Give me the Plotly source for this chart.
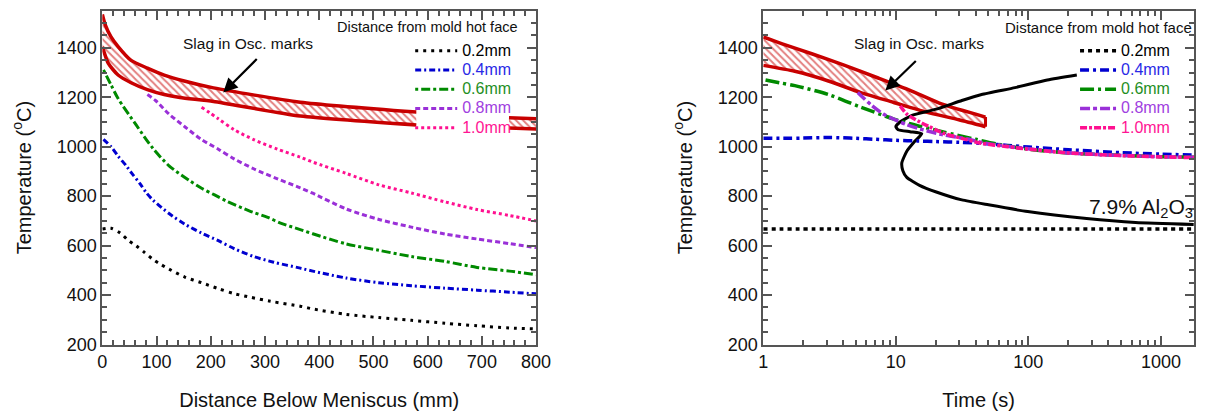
import math
import plotly.graph_objects as go

FONT = "Arial, 'Liberation Sans', sans-serif"

# ---------------- Left panel: temperature vs distance below meniscus ----------------
l02_mm = [0, 16, 33, 47, 62, 78, 93, 107, 123, 152, 183, 214, 243, 274, 310, 365, 388, 450, 510, 570, 632, 691, 751, 800]
l02_T = [667, 670, 651, 623, 600, 572, 545, 525, 505, 473, 450, 426, 406, 391, 375, 355, 344, 322, 309, 298, 286, 276, 267, 263]

l04_mm = [2, 16, 29, 44, 53, 69, 80, 93, 123, 152, 183, 214, 243, 279, 316, 365, 388, 450, 510, 570, 632, 691, 751, 800]
l04_T = [1030, 1000, 962, 923, 896, 852, 817, 785, 730, 687, 651, 620, 588, 556, 533, 509, 497, 469, 450, 438, 428, 420, 412, 405]

l06_mm = [2, 16, 29, 62, 93, 123, 160, 183, 207, 232, 274, 305, 330, 365, 388, 450, 510, 570, 632, 691, 751, 800]
l06_T = [1311, 1250, 1195, 1089, 994, 923, 864, 832, 805, 777, 738, 714, 690, 665, 648, 607, 581, 556, 536, 512, 497, 482]

l08_mm = [83, 98, 123, 152, 183, 214, 243, 279, 323, 365, 388, 450, 510, 570, 632, 691, 751, 800]
l08_T = [1211, 1187, 1132, 1081, 1029, 990, 951, 911, 870, 834, 812, 748, 706, 675, 647, 627, 608, 592]

l10_mm = [183, 214, 243, 279, 323, 365, 388, 450, 510, 570, 632, 691, 751, 800]
l10_T = [1160, 1113, 1069, 1029, 990, 958, 938, 892, 846, 813, 777, 746, 722, 700]

# slag band (hatched), visible in two pieces
lband_up_mm = [0, 5, 16, 29, 53, 83, 114, 151, 205, 365, 579]
lband_up_T = [1535, 1495, 1444, 1405, 1349, 1318, 1290, 1266, 1238, 1180, 1140]
lband_lo_mm = [0, 11, 29, 53, 83, 114, 143, 205, 365, 579]
lband_lo_T = [1404, 1337, 1290, 1259, 1231, 1211, 1199, 1183, 1124, 1088]
lband2_mm = [750, 800]
lband2_up_T = [1117, 1113]
lband2_lo_T = [1076, 1072]

# ---------------- Right panel: temperature vs time ----------------
r02_t = [1, 3, 10, 30, 100, 300, 1000, 1800]
r02_T = [667, 667, 667, 667, 667, 667, 667, 667]

r04_t = [1, 1.5, 2, 3, 4, 5, 7, 10, 15, 20, 30, 50, 70, 100, 200, 500, 1000, 1800]
r04_T = [1034, 1034, 1035, 1037, 1036, 1034, 1030, 1026, 1023, 1021, 1018, 1012, 1005, 999, 988, 976, 970, 966]

r06_t = [1.04, 1.32, 1.73, 3.1, 5.44, 9.55, 12.8, 22.4, 40, 59, 100, 200, 500, 1000, 1800]
r06_T = [1270, 1259, 1247, 1211, 1160, 1113, 1093, 1061, 1030, 1010, 990, 975, 965, 960, 957]

r08_t = [5.16, 6.45, 8.05, 9.55, 12.1, 15.9, 22.4, 35.5, 47.5, 100, 200, 500, 1000, 1800]
r08_T = [1219, 1171, 1132, 1113, 1089, 1069, 1049, 1030, 1014, 992, 975, 965, 960, 957]

r10_t = [10.8, 12.1, 15.1, 17.9, 22.4, 31.4, 44.3, 70, 100, 200, 500, 1000, 1800]
r10_T = [1165, 1132, 1101, 1081, 1057, 1034, 1014, 1000, 990, 975, 964, 959, 956]

rband_up_t = [1, 1.39, 2.32, 4.07, 7.27, 12.8, 22.4, 47.5]
rband_up_T = [1444, 1416, 1376, 1330, 1279, 1228, 1172, 1120]
rband_lo_t = [1, 1.73, 3.10, 5.44, 9.55, 17.0, 29.9, 47.5]
rband_lo_T = [1329, 1305, 1266, 1219, 1180, 1140, 1109, 1081]

al_t = [232, 139, 79.3, 44.4, 31.5, 20.2, 13.4, 10.8, 10.0, 10.4, 12.8, 15.7, 13.9, 12.1, 11.1, 11.3, 12.1, 15.1, 20.2, 31.5, 50, 98.8, 275, 644, 1767]
al_T = [1290, 1270, 1239, 1211, 1187, 1152, 1128, 1101, 1081, 1069, 1061, 1053, 1022, 982, 935, 903, 876, 844, 817, 785, 765, 738, 710, 694, 686]

series_names = ["0.2mm", "0.4mm", "0.6mm", "0.8mm", "1.0mm"]
line_colors = ["#000000", "#0000d0", "#008a00", "#9a30d8", "#ff1090"]
text_colors = ["#000000", "#2a2ae6", "#1f8f1f", "#a040e0", "#ff1493"]
left_dash = ["3px,5px", "6px,3px,2px,3px", "3px,3px,9px,3px", "5px,3px", "3px,3px"]
right_dash = ["4px,4px", "9px,4px,3px,4px", "14px,4px,3px,4px", "10px,3px,4px,3px", "7px,2px,3px,2px"]

BAND_RED = "#c80000"
PATTERN = dict(shape="\\", fgcolor=BAND_RED, bgcolor="rgba(255,255,255,0)", size=5, solidity=0.4)

fig = go.Figure()


def band(xu, yu, xl, yl, xa, ya, close_end=False):
    fig.add_trace(go.Scatter(
        x=xl, y=yl, mode="lines", line=dict(color=BAND_RED, width=3.5, shape="spline", smoothing=0.6),
        xaxis=xa, yaxis=ya, showlegend=False, hoverinfo="skip"))
    fig.add_trace(go.Scatter(
        x=xu, y=yu, mode="lines", fill="tonexty", fillcolor="rgba(255,255,255,0)",
        fillpattern=PATTERN,
        line=dict(color=BAND_RED, width=3.5, shape="spline", smoothing=0.6),
        xaxis=xa, yaxis=ya, showlegend=False, hoverinfo="skip"))
    if close_end:
        fig.add_trace(go.Scatter(
            x=[xu[-1], xl[-1]], y=[yu[-1], yl[-1]], mode="lines",
            line=dict(color=BAND_RED, width=3), xaxis=xa, yaxis=ya, showlegend=False, hoverinfo="skip"))


band(lband_up_mm, lband_up_T, lband_lo_mm, lband_lo_T, "x", "y")
band(lband2_mm, lband2_up_T, lband2_mm, lband2_lo_T, "x", "y")
band(rband_up_t, rband_up_T, rband_lo_t, rband_lo_T, "x2", "y2", close_end=True)

left_data = [(l02_mm, l02_T), (l04_mm, l04_T), (l06_mm, l06_T), (l08_mm, l08_T), (l10_mm, l10_T)]
right_data = [(r02_t, r02_T), (r04_t, r04_T), (r06_t, r06_T), (r08_t, r08_T), (r10_t, r10_T)]


def legend_name(i):
    return f"<span style='color:{text_colors[i]};font-size:16px'>{series_names[i]}</span>"


for i, (xs, ys) in enumerate(left_data):
    fig.add_trace(go.Scatter(
        x=xs, y=ys, mode="lines", name=legend_name(i),
        line=dict(color=line_colors[i], width=3, dash=left_dash[i], shape="spline", smoothing=0.8),
        xaxis="x", yaxis="y", legend="legend"))

fig.add_trace(go.Scatter(
    x=al_t, y=al_T, mode="lines", line=dict(color="#000000", width=3, shape="spline", smoothing=0.5),
    xaxis="x2", yaxis="y2", showlegend=False))

for i, (xs, ys) in enumerate(right_data):
    fig.add_trace(go.Scatter(
        x=xs, y=ys, mode="lines", name=legend_name(i),
        line=dict(color=line_colors[i], width=3.5, dash=right_dash[i], shape="spline", smoothing=0.8),
        xaxis="x2", yaxis="y2", legend="legend2"))

W, H = 1212, 418
ydom = [(H - 353) / H, (H - 11) / H]

axis_common = dict(
    showline=True, linecolor="#555555", linewidth=2, mirror="ticks",
    ticks="inside", ticklen=9, tickwidth=1.5, tickcolor="#555555",
    showgrid=False, zeroline=False,
    tickfont=dict(family=FONT, size=18, color="#111111"),
    title_font=dict(family=FONT, size=20, color="#111111"),
)
minor_common = dict(ticks="inside", ticklen=5, tickwidth=1.5, tickcolor="#555555")

legend_common = dict(xanchor="left", yanchor="top", bgcolor="rgba(0,0,0,0)", borderwidth=0,
                     traceorder="normal", tracegroupgap=0, font=dict(family=FONT, size=12.5))

fig.update_layout(
    width=W, height=H, margin=dict(l=0, r=0, t=0, b=0),
    paper_bgcolor="white", plot_bgcolor="white",
    font=dict(family=FONT, color="#111111"),
    xaxis=dict(domain=[99 / W, 540 / W], range=[0, 800], dtick=100, anchor="y",
               minor=dict(dtick=20, **minor_common),
               title=dict(text="Distance Below Meniscus (mm)", standoff=22), **axis_common),
    yaxis=dict(domain=ydom, range=[200, 1550], dtick=200, anchor="x",
               minor=dict(dtick=50, **minor_common),
               title=dict(text="Temperature (<sup>o</sup>C)", standoff=20), **axis_common),
    xaxis2=dict(domain=[771 / W, 1209 / W], type="log", range=[0, 3.25], anchor="y2",
                tickvals=[1, 10, 100, 1000], ticktext=["1", "10", "100", "1000"],
                minor=dict(dtick="D1", **minor_common),
                title=dict(text="Time (s)", standoff=22), **axis_common),
    yaxis2=dict(domain=ydom, range=[200, 1550], dtick=200, anchor="x2",
                minor=dict(dtick=50, **minor_common),
                title=dict(text="Temperature (<sup>o</sup>C)", standoff=20), **axis_common),
    legend=dict(x=412 / W, y=1 - 37 / H, itemwidth=42, **legend_common),
    legend2=dict(x=1088 / W, y=1 - 37 / H, itemwidth=36, **legend_common),
)

annots = [
    dict(text="Distance from mold hot face", x=430 / W, y=1 - 28 / H, xref="paper", yref="paper",
         xanchor="center", yanchor="middle", showarrow=False,
         font=dict(size=14.5, family=FONT, color="#111111")),
    dict(text="Distance from mold hot face", x=1112 / W, y=1 - 28 / H, xref="paper", yref="paper",
         xanchor="center", yanchor="middle", showarrow=False,
         font=dict(size=15, family=FONT, color="#111111")),
    dict(text="Slag in Osc. marks", x=268, y=1416, xref="x", yref="y", showarrow=False,
         xanchor="center", font=dict(size=15.5, family=FONT, color="#111111")),
    dict(text="", x=223, y=1219, xref="x", yref="y", ax=35, ay=-35, axref="pixel", ayref="pixel",
         showarrow=True, arrowhead=2, arrowsize=1.3, arrowwidth=2.2, arrowcolor="#000000"),
    dict(text="Slag in Osc. marks", x=1.172, y=1416, xref="x2", yref="y2", showarrow=False,
         xanchor="center", font=dict(size=15.5, family=FONT, color="#111111")),
    dict(text="", x=math.log10(8.33), y=1227, xref="x2", yref="y2", ax=32, ay=-31, axref="pixel", ayref="pixel",
         showarrow=True, arrowhead=2, arrowsize=1.3, arrowwidth=2.2, arrowcolor="#000000"),
    dict(text="7.9% Al<sub>2</sub>O<sub>3</sub>", x=2.44, y=752, xref="x2", yref="y2", showarrow=False,
         xanchor="left", yanchor="middle", font=dict(size=21, family=FONT, color="#111111")),
]
fig.update_layout(annotations=annots)

fig.write_html("out.html")
